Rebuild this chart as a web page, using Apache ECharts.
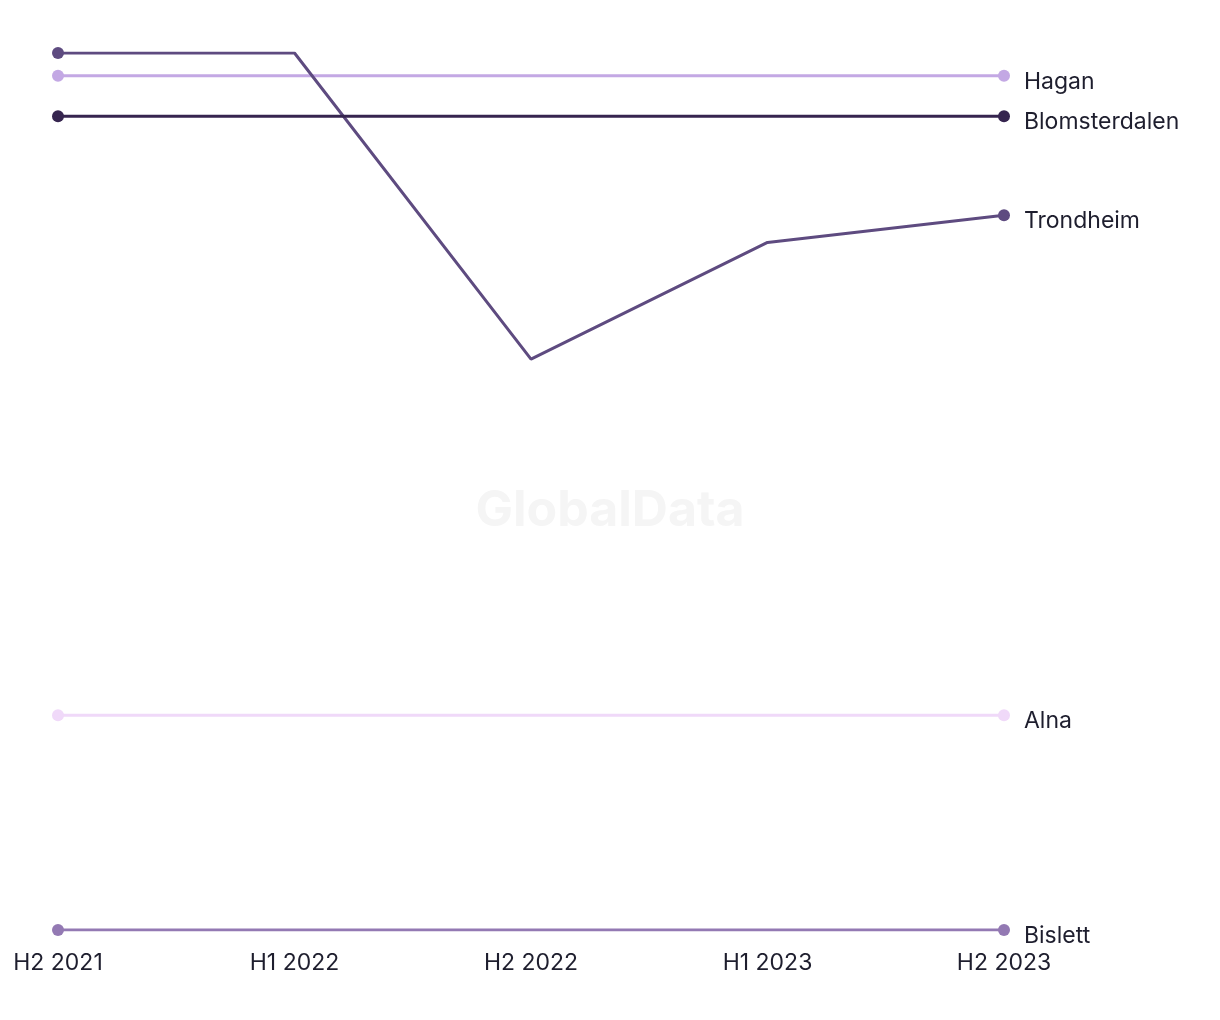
<!DOCTYPE html>
<html>
<head>
<meta charset="utf-8">
<script src="https://cdn.jsdelivr.net/npm/echarts@6/dist/echarts.min.js"></script>
<style>html,body{margin:0;padding:0;background:#fff}#c{width:1220px;height:1020px}</style>
</head>
<body>
<div id="c"></div>
<script>
var categories = ['H2 2021', 'H1 2022', 'H2 2022', 'H1 2023', 'H2 2023'];
var hagan = [97.4, 97.4, 97.4, 97.4, 97.4];
var trondheim = [100, 100, 65.1, 78.4, 81.5];
var blomsterdalen = [92.8, 92.8, 92.8, 92.8, 92.8];
var alna = [24.5, 24.5, 24.5, 24.5, 24.5];
var bislett = [0, 0, 0, 0, 0];

var chart = echarts.init(document.getElementById('c'));
var FONT = 'Inter, "Liberation Sans", sans-serif';
function mk(name, data, color, z) {
  return {
    name: name, type: 'line', data: data, z: z,
    showAllSymbol: true,
    symbol: 'circle',
    symbolSize: function (v, p) { return (p.dataIndex === 0 || p.dataIndex === data.length - 1) ? 12 : 0; },
    lineStyle: { color: color, width: 3 },
    itemStyle: { color: color },
    emphasis: { disabled: true },
    endLabel: { show: true, formatter: '{a}', distance: 20, offset: [0, 6], color: '#1e1e2e', fontSize: 23, fontFamily: FONT }
  };
}
chart.setOption({
  animation: false,
  grid: { left: 58, right: 216, top: 53, bottom: 90 },
  graphic: [{ type: 'text', left: 'center', top: 486, z: 0,
    style: { text: 'GlobalData', fontSize: 50, fontWeight: 'bold', fill: '#f5f5f5', fontFamily: FONT } }],
  xAxis: { type: 'category', data: categories, boundaryGap: false,
    axisLine: { show: false }, axisTick: { show: false }, splitLine: { show: false },
    axisLabel: { color: '#1e1e2e', fontSize: 23, margin: 22, fontFamily: FONT } },
  yAxis: { type: 'value', min: 0, max: 100, show: false },
  series: [
    mk('Hagan', hagan, '#c3a8e4', 2),
    mk('Trondheim', trondheim, '#5e4b80', 3),
    mk('Blomsterdalen', blomsterdalen, '#36254f', 4),
    mk('Alna', alna, '#f0d9f9', 2),
    mk('Bislett', bislett, '#9379b3', 2)
  ]
});
</script>
</body>
</html>
